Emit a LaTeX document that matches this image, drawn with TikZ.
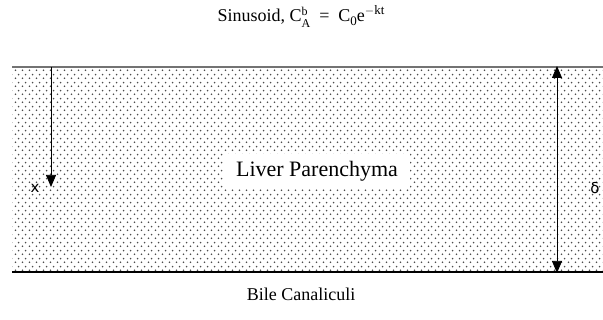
\documentclass[tikz,border=0pt]{standalone}
\usepackage{fontspec}
\setmainfont{Liberation Serif}
\newfontfamily\symfont{DejaVu Sans}
\usetikzlibrary{patterns,arrows.meta}
\pgfdeclarepatternformonly{livdots}{\pgfqpoint{0pt}{0pt}}{\pgfqpoint{7pt}{8pt}}{\pgfqpoint{7pt}{8pt}}{%
  \pgfpathcircle{\pgfqpoint{1.75pt}{2pt}}{1pt}%
  \pgfpathcircle{\pgfqpoint{5.25pt}{6pt}}{1pt}%
  \pgfusepath{fill}}
\tikzset{
  lbl/.style={inner sep=0pt, font=\fontsize{18}{20}\selectfont},
  arr/.style={line width=0.75pt, -{Triangle[width=10pt,length=12pt]}},
  darr/.style={line width=0.75pt, {Triangle[width=10pt,length=12pt]}-{Triangle[width=10pt,length=12pt]}},
}
\newcommand{\scr}[1]{{\fontsize{13}{13}\selectfont #1}}
\newcommand{\stackba}{\raisebox{0pt}{\fontsize{12}{12}\selectfont\begin{tabular}{@{}l@{}}b\\[0pt]A\end{tabular}}}
\begin{document}
\begin{tikzpicture}[x=1pt,y=1pt]
\useasboundingbox (0,0) rectangle (603,320);
% layer
\fill[pattern=livdots, pattern color=black!70] (12,48) rectangle (603,253);
\draw[line width=2pt, black!55] (12,253) -- (603,253);
\draw[line width=1.4pt, black] (12,48) -- (603,48);
% labels
\node[lbl, anchor=base] (title) at (301,298) {Sinusoid, C\stackba\ \ =\ \ C\raisebox{-4pt}{\scr{0}}e\raisebox{7pt}{\scr{$-$kt}}};
\node[lbl] (bile) at (301,26) {Bile Canaliculi};
\node[lbl, fill=white, inner xsep=12pt, inner ysep=7pt, font=\fontsize{22}{24}\selectfont] (liver) at (317,149) {Liver Parenchyma};
\node[lbl, font=\symfont\fontsize{15}{17}\selectfont] (xl) at (35,132) {x};
\node[lbl, font=\symfont\fontsize{15}{17}\selectfont] (dl) at (595,132) {δ};
% arrows
\coordinate (xtop) at (51,253);
\coordinate (xbot) at (51,133);
\coordinate (dtop) at (557,254);
\coordinate (dbot) at (557,47);
\draw[arr] (xtop) -- (xbot);
\draw[darr] (dbot) -- (dtop);
\end{tikzpicture}
\end{document}
